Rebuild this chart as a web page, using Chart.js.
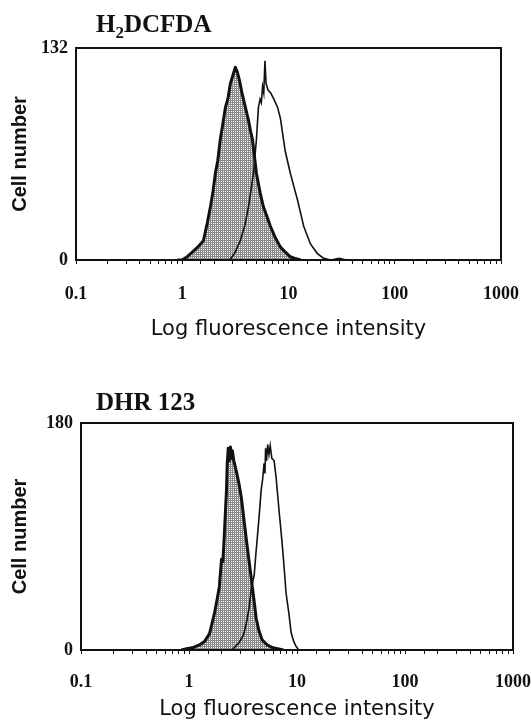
<!DOCTYPE html>
<html>
<head>
<meta charset="utf-8">
<script src="https://cdn.jsdelivr.net/npm/chart.js@4.4.1/dist/chart.umd.min.js"></script>
<style>
  html, body { margin: 0; padding: 0; background: #fff; }
  #page { position: relative; width: 531px; height: 722px; overflow: hidden; }
  .panel { position: absolute; left: 0; width: 531px; height: 350px; }
  .ttl { position: absolute; font: bold 25px 'Liberation Serif', 'Times New Roman', serif; line-height: 25px; color: #111; white-space: nowrap; }
  .ttl sub { font-size: 17px; vertical-align: -6px; line-height: 0; }
</style>
</head>
<body>
<div id="page">
  <div class="panel" style="top:0"><canvas id="topChart" width="531" height="350"></canvas></div>
  <div class="ttl" style="left:96px; top:11px">H<sub>2</sub>DCFDA</div>
  <div class="panel" style="top:372px"><canvas id="bottomChart" width="531" height="350"></canvas></div>
  <div class="ttl" style="left:96px; top:389px">DHR 123</div>
</div>
<script>
// tick values / labels shared by both panels
const xTickValues = [0.1, 1, 10, 100, 1000];
const xTickLabels = ['0.1', '1', '10', '100', '1000'];

// H2DCFDA panel
const h2YTicks = [0, 132];
// shaded histogram (control)
const h2FilledX = [0.9, 1.0, 1.11, 1.25, 1.4, 1.58, 1.72, 1.84, 1.95, 2.05, 2.16, 2.28, 2.4, 2.55, 2.7, 2.84, 3.0, 3.16, 3.3, 3.45, 3.65, 3.93, 4.2, 4.4, 4.58, 4.75, 4.99, 5.4, 5.81, 6.2, 6.75, 7.5, 8.4, 9.3, 10.4, 11.5, 13];
const h2FilledY = [0, 0, 2, 5, 8, 12, 23, 33, 43, 54, 62, 75, 84, 95, 101, 110, 115, 120, 117, 112, 104, 95, 87, 80, 75, 66, 54, 42, 33, 28, 21, 14, 8, 5, 2, 1, 0];
// open histogram (treated)
const h2OpenX = [2.8, 3.1, 3.52, 3.9, 4.2, 4.45, 4.68, 4.99, 5.21, 5.4, 5.55, 5.7, 5.85, 6.0, 6.15, 6.4, 6.8, 7.3, 7.9, 8.4, 9.3, 10.4, 12.2, 13.9, 16.1, 18.7, 21.5, 25, 30, 35, 40];
const h2OpenY = [0, 4, 12, 22, 33, 44, 54, 75, 95, 100, 98, 108, 104, 124, 110, 106, 104, 100, 95, 88, 68, 54, 37, 21, 10, 4, 1, 0, 1, 0, 0];

// DHR 123 panel
const dhrYTicks = [0, 180];
const dhrFilledX = [0.85, 0.95, 1.1, 1.25, 1.4, 1.55, 1.72, 1.82, 1.91, 2.0, 2.06, 2.12, 2.18, 2.22, 2.26, 2.31, 2.36, 2.42, 2.47, 2.52, 2.6, 2.74, 2.9, 3.05, 3.2, 3.39, 3.58, 3.77, 4.02, 4.19, 4.45, 4.76, 5.3, 5.88, 6.6, 7.5];
const dhrFilledY = [0, 1, 2, 4, 7, 13, 29, 40, 50, 72, 70, 90, 112, 125, 148, 160, 150, 161, 152, 158, 150, 142, 132, 121, 106, 88, 72, 57, 38, 25, 15, 8, 4, 2, 1, 0];
const dhrOpenX = [2.5, 2.92, 3.2, 3.39, 3.6, 3.77, 4.02, 4.15, 4.28, 4.45, 4.66, 4.8, 4.96, 5.05, 5.12, 5.22, 5.35, 5.5, 5.65, 5.85, 6.14, 6.4, 6.83, 7.28, 7.59, 7.92, 8.44, 8.81, 9.3, 9.79, 10.4];
const dhrOpenY = [0, 6, 12, 21, 33, 48, 60, 75, 88, 105, 127, 135, 148, 140, 160, 150, 163, 155, 162, 152, 150, 137, 110, 85, 66, 45, 28, 14, 7, 3, 0];

const ink = '#111';

// fine grey stipple like the printed shading
function makeHatch() {
  const c = document.createElement('canvas');
  c.width = 2;
  c.height = 2;
  const g = c.getContext('2d');
  g.fillStyle = '#8a8a8a';
  g.fillRect(0, 0, 2, 2);
  g.fillStyle = '#fff';
  g.fillRect(1, 1, 1, 1);
  return g.createPattern(c, 'repeat');
}

// box around the plot area
const framePlugin = {
  id: 'frame',
  afterDatasetsDraw(chart) {
    const {ctx, chartArea: a} = chart;
    ctx.save();
    ctx.strokeStyle = ink;
    ctx.lineWidth = 2;
    ctx.strokeRect(a.left, a.top, a.right - a.left, a.bottom - a.top);
    ctx.restore();
  }
};

function isDecade(v) {
  const l = Math.log10(v);
  return Math.abs(l - Math.round(l)) < 1e-9;
}

function makeChart(id, filledX, filledY, openX, openY, yTicks, lay) {
  const toPts = (xs, ys) => xs.map((x, i) => ({x: x, y: ys[i]}));
  return new Chart(document.getElementById(id), {
    type: 'line',
    data: {
      datasets: [{
        label: 'open',
        data: toPts(openX, openY),
        borderColor: ink,
        borderWidth: 1.6,
        fill: false,
        pointRadius: 0,
        tension: 0
      }, {
        label: 'filled',
        data: toPts(filledX, filledY),
        borderColor: ink,
        borderWidth: 3,
        borderJoinStyle: 'round',
        backgroundColor: makeHatch(),
        fill: 'origin',
        pointRadius: 0,
        tension: 0
      }]
    },
    options: {
      responsive: false,
      animation: false,
      layout: {padding: lay.padding},
      plugins: {legend: {display: false}, tooltip: {enabled: false}},
      scales: {
        x: {
          type: 'logarithmic',
          min: 0.1,
          max: 1000,
          afterFit: s => {
            s.height = lay.xHeight;
            s.paddingLeft = 0;
            s.paddingRight = 0;
          },
          grid: {display: true, drawOnChartArea: false, drawTicks: true, tickLength: 4, color: ink, lineWidth: 1},
          border: {display: true, color: ink, width: 2},
          ticks: {
            autoSkip: false,
            maxRotation: 0,
            padding: lay.xPad,
            color: ink,
            font: {family: "'Liberation Serif', 'Times New Roman', serif", size: 18, weight: 'bold'},
            callback: v => {
              if (!isDecade(v)) return '';
              const i = xTickValues.findIndex(t => Math.abs(t - v) < 1e-9);
              return i >= 0 ? xTickLabels[i] : '';
            }
          },
          title: {
            display: true,
            text: 'Log fluorescence intensity',
            color: ink,
            font: {family: "'DejaVu Sans', sans-serif", size: 21},
            padding: {top: 0, bottom: lay.xTitlePad}
          }
        },
        y: {
          min: 0,
          max: yTicks[yTicks.length - 1],
          afterBuildTicks: s => { s.ticks = yTicks.map(v => ({value: v})); },
          afterFit: s => { s.width = lay.yWidth; },
          grid: {display: false, drawTicks: false},
          border: {display: true, color: ink, width: 2},
          ticks: {
            padding: 8,
            color: ink,
            font: {family: "'Liberation Serif', 'Times New Roman', serif", size: 18, weight: 'bold'}
          },
          title: {
            display: true,
            text: 'Cell number',
            color: ink,
            font: {family: "'Liberation Sans', Arial, sans-serif", size: 20, weight: 'bold'},
            padding: {top: 0, bottom: 0}
          }
        }
      }
    },
    plugins: [framePlugin]
  });
}

makeChart('topChart', h2FilledX, h2FilledY, h2OpenX, h2OpenY, h2YTicks, {
  padding: {top: 48, left: 8, right: 30, bottom: 0},
  yWidth: 68, xHeight: 90, xPad: 20, xTitlePad: 8
});

makeChart('bottomChart', dhrFilledX, dhrFilledY, dhrOpenX, dhrOpenY, dhrYTicks, {
  padding: {top: 51, left: 8, right: 18, bottom: 0},
  yWidth: 73, xHeight: 72, xPad: 18, xTitlePad: 0
});
</script>
</body>
</html>
